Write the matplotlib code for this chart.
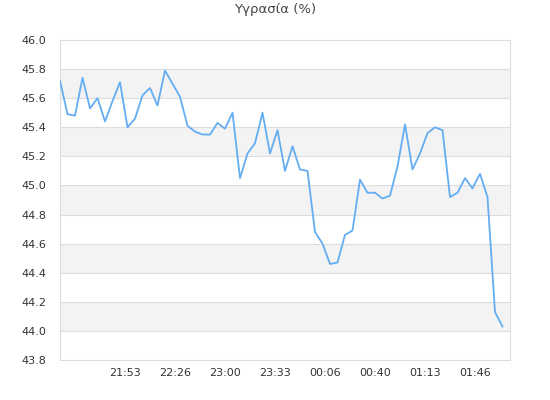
import matplotlib
matplotlib.use("Agg")
import matplotlib.pyplot as plt
import numpy as np

title = "Υγρασία (%)"
humidity = [45.72, 45.49, 45.48, 45.74, 45.53, 45.60, 45.44, 45.58, 45.71, 45.40,
            45.46, 45.62, 45.67, 45.55, 45.79, 45.70, 45.61, 45.41, 45.37, 45.35,
            45.35, 45.43, 45.39, 45.50, 45.05, 45.22, 45.29, 45.50, 45.22, 45.38,
            45.10, 45.27, 45.11, 45.10, 44.68, 44.60, 44.46, 44.47, 44.66, 44.69,
            45.04, 44.95, 44.95, 44.91, 44.93, 45.13, 45.42, 45.11, 45.22, 45.36,
            45.40, 45.38, 44.92, 44.95, 45.05, 44.98, 45.08, 44.92, 44.13, 44.03]
step_min = 5  # minutes between samples, starting 21:10
tick_labels = ["21:53", "22:26", "23:00", "23:33", "00:06", "00:40", "01:13", "01:46"]
y_ticks = [43.8, 44.0, 44.2, 44.4, 44.6, 44.8, 45.0, 45.2, 45.4, 45.6, 45.8, 46.0]

t = np.arange(len(humidity)) * step_min
tick_pos = 43.333 + np.arange(len(tick_labels)) * 33.333

fig = plt.figure(figsize=(5.5, 4), dpi=100)
ax = fig.add_axes([60/550, 40/400, 450/550, 320/400])

ax.set_xlim(0, 300)
ax.set_ylim(43.8, 46.0)

# alternating bands
for lo in [44.0, 44.4, 44.8, 45.2, 45.6]:
    ax.axhspan(lo, lo + 0.2, color="#f3f3f3", zorder=0, lw=0)
for y in y_ticks:
    ax.axhline(y, color="#dddddd", lw=0.8, zorder=1)

ax.plot(t, humidity, color="#64adf2", lw=1.3, zorder=3)

ax.set_yticks(y_ticks)
ax.set_yticklabels([f"{v:.1f}" for v in y_ticks])
ax.set_xticks(tick_pos)
ax.set_xticklabels(tick_labels)
ax.tick_params(axis="both", length=0, labelsize=8, colors="#333333")
ax.tick_params(axis="y", pad=10)
ax.tick_params(axis="x", pad=6)
for s in ax.spines.values():
    s.set_color("#dddddd")
    s.set_linewidth(0.8)

fig.text(0.5, 1 - 10/400, title, ha="center", va="center", fontsize=9.5, color="#444444")

fig.savefig("out.png", dpi=100)
